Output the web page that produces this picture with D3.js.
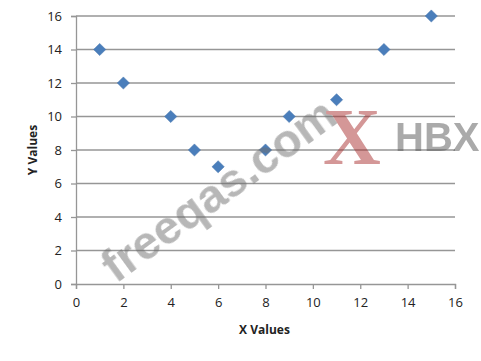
<!DOCTYPE html>
<html>
<head>
<meta charset="utf-8">
<script src="https://cdn.jsdelivr.net/npm/d3@7"></script>
<style>
  body { margin: 0; background: #fff; }
  svg { display: block; }
</style>
</head>
<body>
<div id="chart"></div>
<script>
var width = 481, height = 361;

// data
var xValues = [1, 2, 4, 5, 6, 8, 9, 11, 13, 15];
var yValues = [14, 12, 10, 8, 7, 8, 10, 11, 14, 16];
var xTicks = [0, 2, 4, 6, 8, 10, 12, 14, 16];
var yTicks = [0, 2, 4, 6, 8, 10, 12, 14, 16];

var margin = {left: 76, right: 26, top: 16, bottom: 77};

var svg = d3.select("#chart").append("svg")
    .attr("width", width).attr("height", height);

var x = d3.scaleLinear().domain([0, 16]).range([margin.left, width - margin.right]);
var y = d3.scaleLinear().domain([0, 16]).range([height - margin.bottom, margin.top]);

var font = "'Open Sans', 'Liberation Sans', sans-serif";

// horizontal gridlines
svg.append("g").selectAll("line").data(yTicks.slice(1)).enter().append("line")
    .attr("x1", x(0)).attr("x2", x(16))
    .attr("y1", function(d) { return y(d); })
    .attr("y2", function(d) { return y(d); })
    .attr("stroke", "#969696").attr("stroke-width", 1.3);

var xAxis = svg.append("g")
    .attr("transform", "translate(0," + y(0) + ")")
    .call(d3.axisBottom(x).tickValues(xTicks).tickSize(5).tickPadding(9));
var yAxis = svg.append("g")
    .attr("transform", "translate(" + x(0) + ",0)")
    .call(d3.axisLeft(y).tickValues(yTicks).tickSize(5).tickPadding(9));

[xAxis, yAxis].forEach(function(g) {
  g.select(".domain").attr("stroke", "#969696").attr("stroke-width", 1.3);
  g.selectAll(".tick line").attr("stroke", "#969696").attr("stroke-width", 1.3);
  g.selectAll(".tick text").attr("fill", "#222").style("font-family", font)
      .style("font-size", "13px");
});

svg.append("text").text("X Values")
    .attr("x", x(8) - 1).attr("y", 334)
    .attr("text-anchor", "middle")
    .style("font-family", font).style("font-size", "12px").style("font-weight", "bold")
    .attr("fill", "#222");

svg.append("text").text("Y Values")
    .attr("transform", "translate(37," + y(8) + ") rotate(-90)")
    .attr("text-anchor", "middle")
    .style("font-family", font).style("font-size", "12px").style("font-weight", "bold")
    .attr("fill", "#222");

// diamond markers
var diamond = d3.symbol().type(d3.symbolDiamond2).size(95);
svg.append("g").selectAll("path").data(xValues).enter().append("path")
    .attr("d", diamond)
    .attr("transform", function(d, k) { return "translate(" + x(d) + "," + y(yValues[k]) + ")"; })
    .attr("fill", "#4a7ebb")
    .attr("stroke", "#3f6fa8").attr("stroke-width", 0.5);

// watermark
var wm = svg.append("g").attr("opacity", 0.5);
wm.append("text").text("freeqas.com")
    .attr("transform", "translate(116,284) rotate(-36)")
    .style("font-family", "'Liberation Sans', Arial, sans-serif")
    .style("font-size", "47px").style("font-weight", "bold")
    .attr("fill", "#6e6e6e");
wm.append("text").text("X")
    .attr("x", 352).attr("y", 164)
    .attr("text-anchor", "middle")
    .style("font-family", "'Liberation Serif', 'DejaVu Serif', serif")
    .style("font-size", "80px").style("font-weight", "bold")
    .attr("fill", "#a82e2e");
wm.append("text").text("HBX")
    .attr("x", 395).attr("y", 151)
    .style("font-family", "'Liberation Sans', Arial, sans-serif")
    .style("font-size", "40px").style("font-weight", "bold")
    .attr("fill", "#555");
</script>
</body>
</html>
